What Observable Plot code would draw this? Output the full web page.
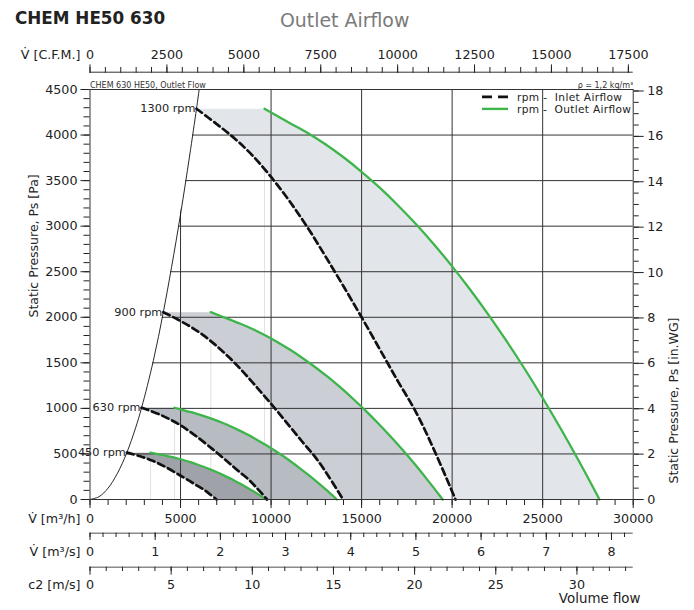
<!DOCTYPE html>
<html><head><meta charset="utf-8">
<script src="https://cdn.jsdelivr.net/npm/d3@7"></script>
<script src="https://cdn.jsdelivr.net/npm/@observablehq/plot@0.6"></script>
<style>
body{margin:0;background:#fff;}
#wrap{position:relative;width:694px;height:610px;overflow:hidden;font-family:"DejaVu Sans",sans-serif;}
.t1{position:absolute;left:15px;top:10px;font-weight:bold;font-size:16.8px;line-height:1;color:#222;white-space:nowrap;}
.t2{position:absolute;left:280px;top:11px;font-size:18.9px;line-height:1;color:#7a7a7a;white-space:nowrap;}
</style></head><body>
<div id="wrap"><div class="t1">CHEM HE50 630</div><div class="t2">Outlet Airflow</div></div>
<script>
// ---------- data (V in m3/h, P in Pa) ----------
const rpmLabels = ["1300 rpm", "900 rpm", "630 rpm", "450 rpm"];

const boundary = [[0,0],[500,31],[1000,125],[1500,282],[2036,514],[2500,775],[2850,1007],[3500,1525],[4050,2056],[4500,2545],[5000,3130],[5500,3770],[5882,4289],[6030,4500]];

const inlet1300 = [[5882,4289],[7000,4120],[8000,3960],[9000,3770],[10000,3540],[11000,3280],[12000,2990],[13000,2670],[14000,2340],[15000,2000],[16000,1650],[17000,1300],[18000,960],[19000,545],[20186,0]];
const outlet1300 = [[9637,4289],[11000,4135],[12000,4025],[13000,3899],[14000,3756],[15000,3597],[16000,3422],[17000,3230],[18000,3023],[19000,2799],[20000,2559],[21000,2302],[22000,2029],[23000,1740],[24000,1435],[25000,1114],[26000,776],[27000,422],[28000,52],[28136,0]];

const inlet900 = [[4050,2056],[4846,1975],[5538,1898],[6231,1807],[6923,1697],[7615,1572],[8308,1433],[9000,1280],[9692,1122],[10385,959],[11077,791],[11769,623],[12461,460],[13154,261],[13975,0]];
const outlet900 = [[6672,2056],[7615,1982],[8308,1929],[9000,1869],[9692,1800],[10385,1724],[11077,1640],[11769,1548],[12461,1449],[13154,1342],[13846,1227],[14538,1103],[15231,973],[15923,834],[16615,688],[17308,534],[18000,372],[18692,202],[19384,25],[19479,0]];

const inlet630 = [[2850,1007],[3877,930],[4846,832],[5815,702],[6784,550],[7269,470],[7754,388],[8238,305],[8723,226],[9207,128],[9782,0]];
const outlet630 = [[4670,1007],[5331,971],[5815,945],[6300,916],[6784,882],[7269,845],[7754,804],[8238,759],[8723,710],[9207,657],[9692,601],[10177,541],[10661,477],[11146,409],[11630,337],[12115,262],[12600,182],[13084,99],[13569,12],[13635,0]];

const inlet450 = [[2036,514],[2770,474],[3462,424],[4154,358],[4847,280],[5193,240],[5539,198],[5885,156],[6232,115],[6578,65],[6988,0]];
const outlet450 = [[3336,514],[3808,495],[4154,482],[4501,467],[4847,450],[5193,431],[5539,410],[5885,387],[6232,362],[6578,335],[6924,307],[7270,276],[7616,243],[7963,208],[8309,172],[8655,133],[9001,93],[9347,51],[9694,6],[9741,0]];

// tick values / labels
const m3hTicks = [0,5000,10000,15000,20000,25000,30000];
const paTicks = [0,500,1000,1500,2000,2500,3000,3500,4000,4500];
const inwgTicks = [0,2,4,6,8,10,12,14,16,18];
const cfmTicks = [0,2500,5000,7500,10000,12500,15000,17500];
const m3sTicks = [0,1,2,3,4,5,6,7,8];
const c2Ticks = [0,5,10,15,20,25,30];
const gridV = [5000,10000,15000,20000,25000];
const gridP = [500,1000,1500,2000,2500,3000,3500,4000];
const legendLabels = ["rpm -  Inlet Airflow", "rpm -  Outlet Airflow"];

// unit conversions
const PA_PER_INWG = 249.09;
const M3H_PER_CFM = 1.69901;
const OUTLET_AREA = 0.249; // m2
const VMAX = 30000, PMAX = 4500;

// ---------- styles ----------
const FONT = "DejaVu Sans";
const W = 694, H = 610, ML = 89.5, MR = 61.3, MT = 89, YB = 499;
const fills = ["#e2e5ea", "#cbced5", "#b7bbc2", "#9fa3a9"];
const GREEN = "#3db54a";

const inlets = [inlet1300, inlet900, inlet630, inlet450];
const outlets = [outlet1300, outlet900, outlet630, outlet450];
const vx = d => d[0], py = d => d[1];

const starts = inlets.map((c, i) => ({v: c[0][0], p: c[0][1], label: rpmLabels[i]}));
const outStarts = outlets.map(c => c[0]);

const marks = [];
marks.push(Plot.ruleX(outStarts, {x: vx, y1: () => 0, y2: py, stroke: "#e2e2e2", strokeWidth: 1}));
inlets.forEach((inl, i) => {
  const poly = [...outlets[i], ...inl.slice().reverse()];
  marks.push(Plot.line(poly, {x: vx, y: py, fill: fills[i], stroke: "none"}));
});
marks.push(Plot.ruleX(gridV, {stroke: "#333", strokeWidth: 1}));
marks.push(Plot.ruleY(gridP, {stroke: "#333", strokeWidth: 1}));
marks.push(Plot.areaX(boundary, {y: py, x1: () => 0, x2: vx, fill: "white", curve: "catmull-rom"}));
marks.push(Plot.line(boundary, {x: vx, y: py, stroke: "#111", strokeWidth: 0.9, curve: "catmull-rom"}));
outlets.forEach(o => marks.push(Plot.line(o, {x: vx, y: py, stroke: GREEN, strokeWidth: 2.3, curve: "catmull-rom"})));
inlets.forEach(c => marks.push(Plot.line(c, {x: vx, y: py, stroke: "#111", strokeWidth: 2.7, strokeDasharray: "7,4", curve: "catmull-rom"})));
marks.push(Plot.text(starts, {x: "v", y: "p", text: "label", textAnchor: "end", dx: -1, fontSize: 11.3, fill: "#222"}));

// axes on the frame
marks.push(Plot.axisY(d3.range(0, 4501, 100), {anchor: "left", tickSize: 6, tickFormat: () => "", label: null}));
marks.push(Plot.axisY(paTicks, {anchor: "left", tickSize: 9, tickPadding: 3.5, tickFormat: d => String(d), label: null, fontSize: 12.7}));
marks.push(Plot.axisY(d3.range(0, 18.01, 0.5).map(v => v * PA_PER_INWG), {anchor: "right", tickSize: 5, tickFormat: () => "", label: null}));
marks.push(Plot.axisY(inwgTicks.map(v => v * PA_PER_INWG), {anchor: "right", tickSize: 10, tickPadding: 4, tickFormat: d => String(Math.round(d / PA_PER_INWG)), label: null, fontSize: 12.7}));
marks.push(Plot.axisX(d3.range(0, 30001, 1000), {anchor: "bottom", tickSize: 6, tickFormat: () => "", label: null}));
marks.push(Plot.axisX(m3hTicks, {anchor: "bottom", tickSize: 9, tickPadding: 5, tickFormat: d => String(d), label: null, fontSize: 12.7}));
marks.push(Plot.frame({stroke: "#333", strokeWidth: 1}));

// annotations
marks.push(Plot.text(["CHEM 630 HE50, Outlet Flow"], {text: d => d, frameAnchor: "top-left", textAnchor: "start", lineAnchor: "bottom", dy: -2, fontSize: 8, fill: "#333"}));
marks.push(Plot.text(["ρ = 1,2 kg/m³"], {text: d => d, frameAnchor: "top-right", textAnchor: "end", lineAnchor: "bottom", dy: -2, fontSize: 8, fill: "#333"}));
marks.push(Plot.text(["Static Pressure, Ps [Pa]"], {text: d => d, frameAnchor: "left", rotate: -90, dx: -56.5, dy: 23, fontSize: 12.5, fill: "#222"}));
marks.push(Plot.text(["Static Pressure, Ps [in.WG]"], {text: d => d, frameAnchor: "right", rotate: -90, dx: 40.3, dy: 23, fontSize: 12.5, fill: "#222"}));
marks.push(Plot.text(["V̇ [m³/h]"], {text: d => d, frameAnchor: "bottom-left", textAnchor: "end", lineAnchor: "middle", dx: -9.5, dy: 19.3, fontSize: 12.7, fill: "#222"}));

const main = Plot.plot({
  width: W, height: H,
  marginLeft: ML, marginRight: MR, marginTop: MT, marginBottom: H - YB,
  x: {domain: [0, VMAX]},
  y: {domain: [0, PMAX]},
  style: {fontFamily: FONT, fontSize: "12.7px", color: "#222", background: "white", overflow: "visible"},
  marks
});

// legend
const svg = d3.select(main);
const lg = svg.append("g").attr("font-family", FONT).attr("font-size", 10.6).attr("fill", "#222").attr("text-anchor", "start");
const legY = [96.9, 108.9];
lg.append("line").attr("x1", 482).attr("x2", 508).attr("y1", legY[0]).attr("y2", legY[0])
  .attr("stroke", "#111").attr("stroke-width", 2.6).attr("stroke-dasharray", "10,6");
lg.append("line").attr("x1", 482).attr("x2", 508).attr("y1", legY[1]).attr("y2", legY[1])
  .attr("stroke", GREEN).attr("stroke-width", 2.4);
legendLabels.forEach((t, i) => {
  lg.append("text").attr("x", 517).attr("y", legY[i]).attr("dy", "0.35em").attr("text-anchor", "start")
    .attr("textLength", i === 0 ? 105 : 114).attr("lengthAdjust", "spacing")
    .style("white-space", "pre").text(t);
});

const wrap = document.getElementById("wrap");
main.style.position = "absolute"; main.style.left = "0px"; main.style.top = "0px";
wrap.insertBefore(main, wrap.firstChild);

// secondary unit axes (same pixel span as the flow axis)
function unitAxis(o) {
  const ms = [
    Plot.ruleY([0], {stroke: o.lineColor, strokeWidth: o.lineWidth}),
    Plot.axisX(o.minor, {anchor: o.anchor, tickSize: o.minorLen, tickFormat: () => "", label: null}),
    Plot.axisX(o.major, {anchor: o.anchor, tickSize: o.majorLen, tickPadding: o.pad, tickFormat: d => String(d), label: null, fontSize: 12.7}),
    Plot.text([o.label], {text: d => d, frameAnchor: o.anchor + "-left", textAnchor: "end", lineAnchor: "middle", dx: -9.5, dy: o.labelDy, fontSize: 12.7, fill: "#222"})
  ];
  if (o.extra) ms.push(o.extra);
  const p = Plot.plot({
    width: W, height: H,
    marginLeft: ML, marginRight: MR, marginTop: o.y, marginBottom: H - o.y,
    x: {domain: [0, o.max]},
    y: {domain: [0, 1], axis: null},
    style: {fontFamily: FONT, fontSize: "12.7px", color: "#222", background: "transparent", overflow: "visible"},
    marks: ms
  });
  p.style.position = "absolute"; p.style.left = "0px"; p.style.top = "0px";
  wrap.appendChild(p);
}

unitAxis({y: 71.7, anchor: "top", max: VMAX / M3H_PER_CFM, major: cfmTicks, minor: d3.range(0, 17501, 500),
  majorLen: 8.3, minorLen: 5.7, pad: 4.5, label: "V̇ [C.F.M.]", labelDy: -17.7, lineColor: "#333", lineWidth: 1});
unitAxis({y: 532.7, anchor: "bottom", max: VMAX / 3600, major: m3sTicks, minor: d3.range(0, 8.31, 0.2),
  majorLen: 7.3, minorLen: 4.3, pad: 6.2, label: "V̇ [m³/s]", labelDy: 18.3, lineColor: "#8a8a8a", lineWidth: 1.6});
unitAxis({y: 566.7, anchor: "bottom", max: VMAX / 3600 / OUTLET_AREA, major: c2Ticks, minor: d3.range(0, 33.1, 1),
  majorLen: 8, minorLen: 4.3, pad: 4.6, label: "c2 [m/s]", labelDy: 17.3, lineColor: "#8a8a8a", lineWidth: 1.6,
  extra: Plot.text(["Volume flow"], {text: d => d, frameAnchor: "bottom-right", textAnchor: "end", lineAnchor: "middle", dx: 7.3, dy: 31.3, fontSize: 13.4, fill: "#222"})});
</script>
</body></html>
